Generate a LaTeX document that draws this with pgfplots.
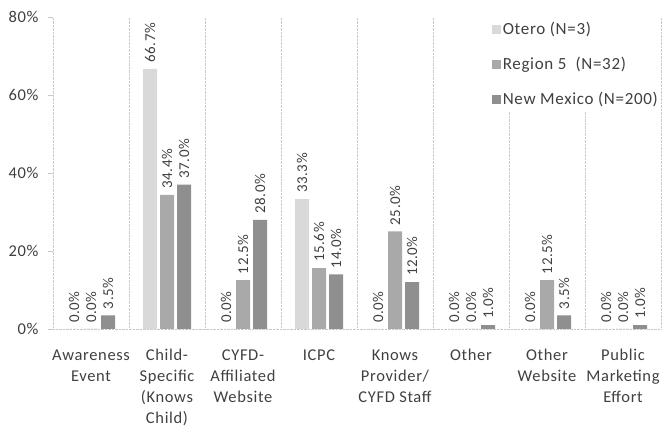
\documentclass[border=0pt]{standalone}
\usepackage{pgfplots}
\pgfplotsset{compat=1.18}
\usepackage{fontspec}
\setmainfont{Carlito}[LetterSpace=4]

\definecolor{otero}{HTML}{D9D9D9}
\definecolor{regfive}{HTML}{A9A9A9}
\definecolor{nmex}{HTML}{8F8F8F}
\definecolor{txt}{HTML}{404040}
\definecolor{sep}{HTML}{C8C8C8}

\begin{document}
\begin{tikzpicture}
\begin{axis}[
  scale only axis,
  width=608pt, height=312pt,
  ybar=3pt, bar width=14pt,
  xmin=-0.5, xmax=7.5,
  ymin=0, ymax=80,
  xtick={0,...,7},
  xticklabels={Awareness\\Event, Child-\\Specific\\(Knows\\Child), CYFD-\\Affiliated\\Website, ICPC, Knows\\Provider/\\CYFD Staff, Other, Other\\Website, Public\\Marketing\\Effort},
  x tick label style={align=center, font=\fontsize{16.5}{21}\selectfont, text=txt, yshift=-12pt},
  major x tick style={draw=none},
  minor xtick={-0.5,0.5,...,7.5},
  minor x tick style={draw=none},
  minor x grid style={sep, densely dotted},
  xminorgrids,
  ytick={0,20,40,60,80},
  yticklabel={\pgfmathprintnumber{\tick}\%},
  y tick label style={font=\fontsize{16.5}{18}\selectfont, text=txt, xshift=-6pt},
  /pgf/number format/assume math mode=true,
  tick align=outside,
  major tick length=5pt,
  y tick style={sep},
  ytick pos=left,
  axis line style={draw=none},
  extra y ticks={0},
  extra y tick labels={},
  extra y tick style={grid=major, major grid style={sep, densely dotted}},
  nodes near coords={\pgfmathprintnumber[fixed, fixed zerofill, precision=1]{\pgfplotspointmeta}\%},
  every node near coord/.append style={rotate=90, anchor=west, font=\fontsize{15}{18}\selectfont, text=txt, inner xsep=6pt},
  legend style={at={(1,1)}, anchor=north east, draw=none, fill=white,
    font=\fontsize{17}{18}\selectfont, text=txt, row sep=17pt, inner xsep=1pt, inner ysep=3pt},
  legend cell align=left,
  legend image code/.code={\fill[#1] (-3pt,-4.5pt) rectangle (6pt,4.5pt);},
]
\addplot[fill=otero, draw=none] coordinates {
(0,0) (1,66.7) (2,0) (3,33.3) (4,0) (5,0) (6,0) (7,0)};
\addplot[fill=regfive, draw=none] coordinates {
(0,0) (1,34.4) (2,12.5) (3,15.6) (4,25.0) (5,0) (6,12.5) (7,0)};
\addplot[fill=nmex, draw=none] coordinates {
(0,3.5) (1,37.0) (2,28.0) (3,14.0) (4,12.0) (5,1.0) (6,3.5) (7,1.0)};
\legend{Otero (N=3), Region 5\ \ (N=32), New Mexico (N=200)}
\end{axis}
\pgfresetboundingbox
\path ([xshift=-53pt,yshift=-98pt]current axis.south west) rectangle ([xshift=1pt,yshift=17pt]current axis.north east);
\end{tikzpicture}
\end{document}
